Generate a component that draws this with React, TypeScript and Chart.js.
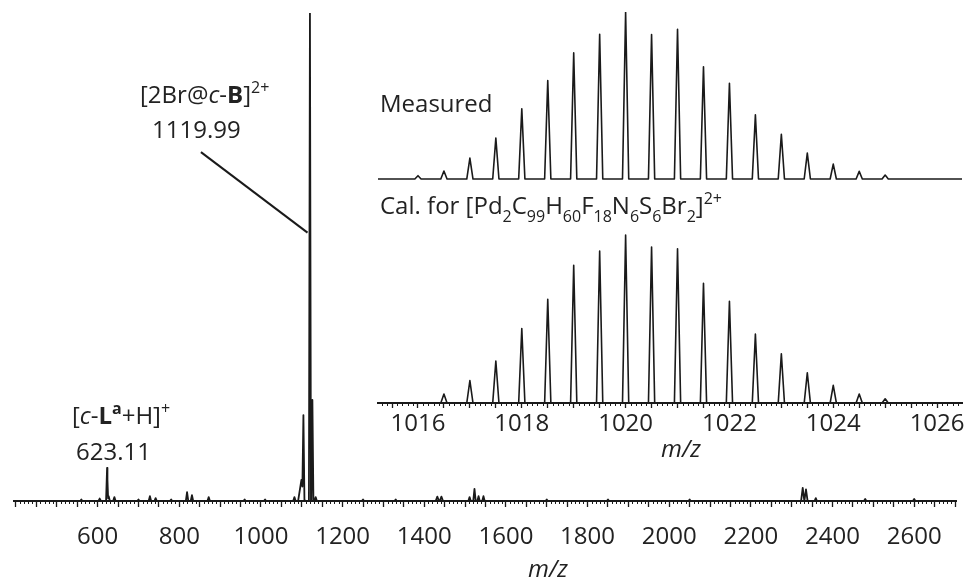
import React, { useEffect, useRef } from 'react';
import { Chart, registerables } from 'chart.js';

Chart.register(...registerables);

const FONT = '"Open Sans", "Noto Sans", sans-serif';
const INK = '#1a1a1a';
const TEXT = '#222222';

// ---- Main spectrum (full range) ----
const mainMz = [560, 605, 623.11, 627, 641, 700, 728, 742, 780, 819, 831, 872, 960, 1010, 1082, 1099, 1104, 1119.99, 1126, 1134, 1250, 1330, 1432, 1442, 1511, 1523, 1533, 1545, 1700, 1850, 2050, 2327, 2335, 2359, 2480, 2600];
const mainIntensity = [0.3, 0.5, 6.8, 1.0, 0.8, 0.3, 1.0, 0.6, 0.3, 1.8, 1.2, 0.8, 0.3, 0.3, 0.8, 4.3, 16, 100, 20.7, 0.8, 0.3, 0.3, 0.9, 0.9, 0.8, 2.5, 1.0, 1.0, 0.3, 0.3, 0.3, 2.7, 2.4, 0.6, 0.4, 0.4];
const mainPeakHalfWidth = [3, 3, 2.5, 3, 3, 3, 3, 3, 3, 3, 3, 3, 3, 3, 3, 8, 2.5, 2.5, 2.5, 3, 3, 3, 4, 4, 3, 3, 3, 3, 3, 3, 3, 4, 4, 3, 3, 3];
const mainTickLabels = [600, 800, 1000, 1200, 1400, 1600, 1800, 2000, 2200, 2400, 2600];

// ---- Inset: isotope pattern ----
const measuredMz = [1016.0, 1016.5, 1017.0, 1017.5, 1018.0, 1018.5, 1019.0, 1019.5, 1020.0, 1020.5, 1021.0, 1021.5, 1022.0, 1022.5, 1023.0, 1023.5, 1024.0, 1024.5, 1025.0];
const measuredIntensity = [2.0, 4.8, 12.5, 24.5, 42, 59, 75.5, 86.7, 100, 86.5, 89.7, 67.2, 57.3, 38.4, 26.8, 15.5, 8.9, 4.6, 2.4];
const calcMz = [1016.5, 1017.0, 1017.5, 1018.0, 1018.5, 1019.0, 1019.5, 1020.0, 1020.5, 1021.0, 1021.5, 1022.0, 1022.5, 1023.0, 1023.5, 1024.0, 1024.5, 1025.0];
const calcIntensity = [5.3, 13.3, 25, 44.3, 61.7, 82, 90.4, 100, 92.8, 91.8, 71.3, 60.5, 41, 29.3, 18, 10.5, 5.3, 2.5];
const insetTickLabels = [1016, 1018, 1020, 1022, 1024, 1026];

const MAIN_MIN = 395;
const MAIN_MAX = 2704;
const INSET_MIN = 1015.23;
const INSET_MAX = 1026.48;

type Pt = { x: number; y: number };

function buildTrace(mz: number[], h: number[], hw: number[], lo: number, hi: number): Pt[] {
  const xs = new Set<number>([lo, hi]);
  mz.forEach((m, i) => {
    xs.add(m - hw[i]);
    xs.add(m);
    xs.add(m + hw[i]);
  });
  const sorted = Array.from(xs).filter((x) => x >= lo && x <= hi).sort((a, b) => a - b);
  return sorted.map((x) => ({
    x,
    y: mz.reduce((s, m, i) => s + Math.max(0, h[i] * (1 - Math.abs(x - m) / hw[i])), 0),
  }));
}

type Seg = { t: string; it?: boolean; b?: boolean; sup?: boolean; sub?: boolean };

function drawRich(ctx: CanvasRenderingContext2D, segs: Seg[], x: number, y: number, size: number, align: 'left' | 'center') {
  const small = Math.round(size * 0.66);
  const fontFor = (s: Seg) =>
    `${s.it ? 'italic ' : ''}${s.b ? 'bold ' : ''}${s.sup || s.sub ? small : size}px ${FONT}`;
  const widths = segs.map((s) => {
    ctx.font = fontFor(s);
    return ctx.measureText(s.t).width;
  });
  const total = widths.reduce((a, b) => a + b, 0);
  let cx = align === 'center' ? x - total / 2 : x;
  ctx.textBaseline = 'alphabetic';
  ctx.textAlign = 'left';
  ctx.fillStyle = TEXT;
  segs.forEach((s, i) => {
    ctx.font = fontFor(s);
    const dy = s.sup ? -size * 0.4 : s.sub ? size * 0.32 : 0;
    ctx.fillText(s.t, cx, y + dy);
    cx += widths[i];
  });
}

const ann623: Seg[] = [{ t: '[' }, { t: 'c', it: true }, { t: '-' }, { t: 'L', b: true }, { t: 'a', b: true, sup: true }, { t: '+H]' }, { t: '+', sup: true }];
const ann1120: Seg[] = [{ t: '[2Br@' }, { t: 'c', it: true }, { t: '-' }, { t: 'B', b: true }, { t: ']' }, { t: '2+', sup: true }];
const calLabel: Seg[] = [
  { t: 'Cal. for [Pd' }, { t: '2', sub: true }, { t: 'C' }, { t: '99', sub: true }, { t: 'H' }, { t: '60', sub: true },
  { t: 'F' }, { t: '18', sub: true }, { t: 'N' }, { t: '6', sub: true }, { t: 'S' }, { t: '6', sub: true },
  { t: 'Br' }, { t: '2', sub: true }, { t: ']' }, { t: '2+', sup: true },
];

const near = (v: number, step: number) => Math.abs(v / step - Math.round(v / step)) < 1e-6;

const mainDecor = {
  id: 'mainDecor',
  afterDraw(chart: any) {
    const ctx: CanvasRenderingContext2D = chart.ctx;
    const xs = chart.scales.x;
    const ys = chart.scales.y;
    const bottom = chart.chartArea.bottom;
    ctx.save();
    ctx.strokeStyle = INK;
    ctx.lineWidth = 1;
    for (let k = Math.ceil(MAIN_MIN / 10); k <= Math.floor(MAIN_MAX / 10); k++) {
      const v = k * 10;
      if (v % 50 === 0) continue;
      const px = Math.round(xs.getPixelForValue(v)) + 0.5;
      ctx.beginPath();
      ctx.moveTo(px, bottom);
      ctx.lineTo(px, bottom + 3);
      ctx.stroke();
    }
    ctx.lineWidth = 2;
    ctx.beginPath();
    ctx.moveTo(xs.getPixelForValue(853), ys.getPixelForValue(71.5));
    ctx.lineTo(xs.getPixelForValue(1114), ys.getPixelForValue(55));
    ctx.stroke();
    drawRich(ctx, ann623, 72, 424, 24, 'left');
    drawRich(ctx, [{ t: '623.11' }], 76, 460, 24, 'left');
    drawRich(ctx, ann1120, 140, 103, 24, 'left');
    drawRich(ctx, [{ t: '1119.99' }], 152, 138, 24, 'left');
    ctx.font = `italic 24px ${FONT}`;
    ctx.fillStyle = TEXT;
    ctx.textAlign = 'center';
    ctx.textBaseline = 'alphabetic';
    ctx.fillText('m/z', 548, 577);
    ctx.restore();
  },
};

const insetDecor = {
  id: 'insetDecor',
  afterDraw(chart: any) {
    const ctx: CanvasRenderingContext2D = chart.ctx;
    const xs = chart.scales.x;
    const bottom = chart.chartArea.bottom;
    ctx.save();
    ctx.strokeStyle = INK;
    ctx.lineWidth = 1;
    for (let k = Math.ceil(INSET_MIN * 10); k <= Math.floor(INSET_MAX * 10); k++) {
      if (k % 5 === 0) continue;
      const px = Math.round(xs.getPixelForValue(k / 10)) + 0.5;
      ctx.beginPath();
      ctx.moveTo(px, bottom);
      ctx.lineTo(px, bottom + 3);
      ctx.stroke();
    }
    drawRich(ctx, [{ t: 'Measured' }], 20, 112, 24, 'left');
    drawRich(ctx, calLabel, 20, 214, 24, 'left');
    ctx.font = `italic 24px ${FONT}`;
    ctx.fillStyle = TEXT;
    ctx.textAlign = 'center';
    ctx.textBaseline = 'alphabetic';
    ctx.fillText('m/z', 321, 457);
    ctx.restore();
  },
};

export default function App() {
  const mainRef = useRef<HTMLCanvasElement>(null);
  const insetRef = useRef<HTMLCanvasElement>(null);

  useEffect(() => {
    if (!mainRef.current || !insetRef.current) return;
    const main = new Chart(mainRef.current, {
      type: 'line',
      data: {
        datasets: [
          {
            data: buildTrace(mainMz, mainIntensity, mainPeakHalfWidth, MAIN_MIN, MAIN_MAX),
            borderColor: INK,
            borderWidth: 1.8,
            pointRadius: 0,
            tension: 0,
            fill: false,
            borderJoinStyle: 'round',
          },
        ],
      },
      options: {
        animation: false,
        responsive: false,
        events: [],
        layout: { padding: { left: 10, right: 3, top: 13, bottom: 0 } },
        plugins: { legend: { display: false }, tooltip: { enabled: false } },
        scales: {
          x: {
            type: 'linear',
            min: MAIN_MIN,
            max: MAIN_MAX,
            afterFit: (s: any) => {
              s.height = 83;
            },
            border: { display: true, color: INK, width: 2 },
            grid: {
              drawOnChartArea: false,
              drawTicks: true,
              tickLength: 6,
              tickWidth: 1.3,
              tickColor: (c: any) => (c.tick && near(c.tick.value, 50) ? INK : 'rgba(0,0,0,0)'),
            },
            ticks: {
              stepSize: 50,
              includeBounds: false,
              autoSkip: false,
              maxRotation: 0,
              minRotation: 0,
              padding: 16,
              color: TEXT,
              font: { family: FONT, size: 24, lineHeight: 1.2 },
              callback: (v: any) => (mainTickLabels.includes(Number(v)) ? String(v) : ''),
            },
          },
          y: { display: false, min: 0, max: 100 },
        },
      } as any,
      plugins: [mainDecor],
    });

    const inset = new Chart(insetRef.current, {
      type: 'line',
      data: {
        datasets: [
          {
            data: buildTrace(measuredMz, measuredIntensity, measuredMz.map(() => 0.06), INSET_MIN, INSET_MAX),
            yAxisID: 'yM',
            borderColor: INK,
            borderWidth: 1.6,
            pointRadius: 0,
            tension: 0,
            fill: false,
            borderJoinStyle: 'round',
          },
          {
            data: buildTrace(calcMz, calcIntensity, calcMz.map(() => 0.06), INSET_MIN, INSET_MAX),
            yAxisID: 'yC',
            borderColor: INK,
            borderWidth: 1.6,
            pointRadius: 0,
            tension: 0,
            fill: false,
            borderJoinStyle: 'round',
          },
        ],
      },
      options: {
        animation: false,
        responsive: false,
        events: [],
        layout: { padding: { left: 18, right: 9, top: 12, bottom: 0 } },
        plugins: { legend: { display: false }, tooltip: { enabled: false } },
        scales: {
          x: {
            type: 'linear',
            min: INSET_MIN,
            max: INSET_MAX,
            afterFit: (s: any) => {
              s.height = 77;
            },
            border: { display: true, color: INK, width: 2 },
            grid: {
              drawOnChartArea: false,
              drawTicks: true,
              tickLength: 5,
              tickWidth: 1.3,
              tickColor: (c: any) => (c.tick && near(c.tick.value, 0.5) ? INK : 'rgba(0,0,0,0)'),
            },
            ticks: {
              stepSize: 0.5,
              includeBounds: false,
              autoSkip: false,
              maxRotation: 0,
              minRotation: 0,
              padding: 2,
              color: TEXT,
              font: { family: FONT, size: 24, lineHeight: 1.2 },
              callback: (v: any) => {
                const n = Number(v);
                return near(n, 1) && insetTickLabels.includes(Math.round(n)) ? String(Math.round(n)) : '';
              },
            },
          },
          yM: { display: false, min: -134.1, max: 100 },
          yC: { display: false, min: 0, max: 232.7 },
        },
      } as any,
      plugins: [insetDecor],
    });

    return () => {
      main.destroy();
      inset.destroy();
    };
  }, []);

  return (
    <div style={{ position: 'fixed', left: 0, top: 0, width: 971, height: 584, background: '#ffffff' }}>
      <canvas ref={mainRef} width={971} height={584} style={{ position: 'absolute', left: 0, top: 0, width: 971, height: 584 }} />
      <canvas ref={insetRef} width={611} height={480} style={{ position: 'absolute', left: 360, top: 0, width: 611, height: 480 }} />
    </div>
  );
}
